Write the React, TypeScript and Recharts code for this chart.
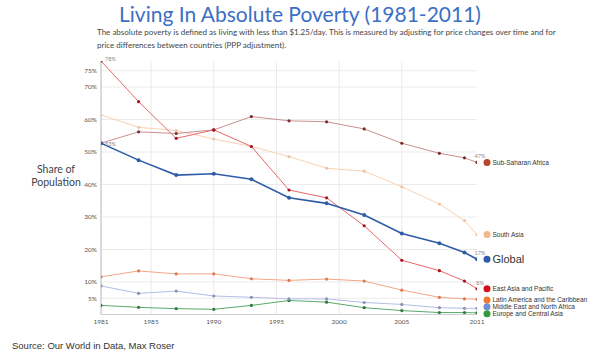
import React from 'react';
import { LineChart, Line, XAxis, YAxis, CartesianGrid } from 'recharts';

const years = [1981, 1984, 1987, 1990, 1993, 1996, 1999, 2002, 2005, 2008, 2010, 2011];
const eastAsia = [78, 65.5, 54.2, 56.8, 51.7, 38.3, 35.9, 27.3, 16.7, 13.5, 10.3, 7.9];
const subSaharan = [52.7, 56.2, 55.7, 56.8, 60.9, 59.6, 59.3, 57.1, 52.7, 49.6, 48.2, 46.8];
const southAsia = [61.4, 57.6, 56.6, 54.0, 51.7, 48.6, 45.0, 44.1, 39.3, 34.0, 28.9, 24.6];
const globalShare = [52.7, 47.5, 42.9, 43.3, 41.6, 35.9, 34.2, 30.6, 24.9, 21.9, 19.1, 17.0];
const latinAmerica = [11.6, 13.4, 12.5, 12.5, 11.0, 10.5, 10.9, 10.3, 7.5, 5.3, 4.8, 4.7];
const middleEast = [8.8, 6.5, 7.2, 5.7, 5.3, 4.8, 4.8, 3.7, 3.1, 2.1, 1.9, 1.9];
const europe = [2.8, 2.2, 1.8, 1.6, 2.8, 4.3, 3.8, 2.1, 1.2, 0.6, 0.6, 0.5];

const xTicks = [1981, 1985, 1990, 1995, 2000, 2005, 2011];
const yTicks = [5, 10, 20, 30, 40, 50, 60, 70, 75];
const gridYears = [1985, 1990, 1995, 2000, 2005];

const seriesNames = [
  'Sub-Saharan Africa',
  'South Asia',
  'Global',
  'East Asia and Pacific',
  'Latin America and the Caribbean',
  'Middle East and North Africa',
  'Europe and Central Asia',
];

const startLabels: Record<string, string> = { eastAsia: '78%', subSaharan: '53%' };
const endLabels: Record<string, string> = { subSaharan: '47%', globalShare: '17%', eastAsia: '8%' };

const data = years.map((year, i) => ({
  year,
  eastAsia: eastAsia[i],
  subSaharan: subSaharan[i],
  southAsia: southAsia[i],
  globalShare: globalShare[i],
  latinAmerica: latinAmerica[i],
  middleEast: middleEast[i],
  europe: europe[i],
}));

type SeriesStyle = {
  key: string;
  name: string;
  line: string;
  dot: string;
  legend: string;
  width: number;
  big?: boolean;
  legendDy?: number;
};

const series: SeriesStyle[] = [
  { key: 'europe', name: seriesNames[6], line: '#5aaa6a', dot: '#2f7a40', legend: '#2e9a44', width: 1, legendDy: 0.8 },
  { key: 'middleEast', name: seriesNames[5], line: '#b4bce6', dot: '#8a94b4', legend: '#6f8fd6', width: 1, legendDy: -1.5 },
  { key: 'latinAmerica', name: seriesNames[4], line: '#f4a584', dot: '#e07a55', legend: '#f07a32', width: 1, legendDy: 0.7 },
  { key: 'southAsia', name: seriesNames[1], line: '#f9d2b0', dot: '#f0c4a4', legend: '#f3b88a', width: 1 },
  { key: 'subSaharan', name: seriesNames[0], line: '#c98f8f', dot: '#7a2f2f', legend: '#b6452f', width: 1 },
  { key: 'eastAsia', name: seriesNames[3], line: '#e2686a', dot: '#a8121f', legend: '#d3101f', width: 1 },
  { key: 'globalShare', name: seriesNames[2], line: '#2f5ca8', dot: '#2f5ca8', legend: '#2f5ca8', width: 1.6, big: true },
];

const makeLabel = (s: SeriesStyle) => (props: any) => {
  const { x, y, index } = props;
  const k = `${s.key}-lab-${index}`;
  if (index === 0 && startLabels[s.key]) {
    return (
      <text key={k} x={x + 4} y={y + (s.key === 'subSaharan' ? 3 : -0.5)} fontSize={5.5} fill="#888" fontFamily="Lato, sans-serif">
        {startLabels[s.key]}
      </text>
    );
  }
  if (index === years.length - 1) {
    const ly = y + (s.legendDy || 0);
    return (
      <g key={k}>
        {endLabels[s.key] ? (
          <text x={x + 3} y={y - 4} textAnchor="middle" fontSize={5.5} fill="#888" fontFamily="Lato, sans-serif">
            {endLabels[s.key]}
          </text>
        ) : null}
        <circle cx={x + 10} cy={ly} r={3.5} fill={s.legend} />
        <text
          x={x + 15.5}
          y={ly}
          dy="0.35em"
          fontSize={s.big ? 11 : 6.5}
          fill="#333"
          fontFamily="'Liberation Sans', Arial, sans-serif"
        >
          {s.name}
        </text>
      </g>
    );
  }
  return <g key={k} />;
};

export default function App() {
  return (
    <div style={{ position: 'absolute', left: 0, top: 0, width: 600, height: 356, background: '#fff', overflow: 'hidden' }}>
      <div
        style={{
          position: 'absolute',
          left: 0,
          top: 1,
          width: 600,
          textAlign: 'center',
          fontFamily: 'Lato, sans-serif',
          fontWeight: 400,
          fontSize: 21,
          lineHeight: '26px',
          color: '#3b70c4',
          whiteSpace: 'nowrap',
        }}
      >
        Living In Absolute Poverty (1981-2011)
      </div>
      <div
        style={{
          position: 'absolute',
          left: 97,
          top: 26,
          width: 480,
          fontFamily: 'Lato, sans-serif',
          fontSize: 8,
          lineHeight: '12.5px',
          color: '#444',
        }}
      >
        The absolute poverty is defined as living with less than $1.25/day. This is measured by adjusting for price changes over time and for
        <br />
        price differences between countries (PPP adjustment).
      </div>
      <div
        style={{
          position: 'absolute',
          left: 6,
          top: 163,
          width: 100,
          textAlign: 'center',
          fontFamily: 'Lato, sans-serif',
          fontSize: 10.5,
          lineHeight: '13px',
          color: '#444',
        }}
      >
        Share of
        <br />
        Population
      </div>
      <div
        style={{
          position: 'absolute',
          left: 12,
          top: 340,
          fontFamily: "'Liberation Sans', Arial, sans-serif",
          fontSize: 9.5,
          color: '#333',
          whiteSpace: 'nowrap',
        }}
      >
        Source: Our World in Data, Max Roser
      </div>
      <div style={{ position: 'absolute', left: 0, top: 0 }}>
        <LineChart width={600} height={356} data={data} margin={{ top: 61, right: 123, bottom: 21.5, left: 71 }}>
          <CartesianGrid
            stroke="#ebebeb"
            horizontalValues={yTicks}
            verticalValues={gridYears}
          />
          <XAxis
            dataKey="year"
            type="number"
            domain={[1981, 2011]}
            ticks={xTicks}
            height={20}
            tickSize={0}
            tickMargin={5}
            axisLine={{ stroke: '#cfcfcf' }}
            tickLine={false}
            tick={{ fontSize: 6.5, fill: '#555', fontFamily: 'Lato, sans-serif' }}
            interval={0}
            allowDataOverflow
          />
          <YAxis
            type="number"
            domain={[0, 78]}
            ticks={yTicks}
            width={30}
            tickSize={0}
            tickMargin={4}
            axisLine={{ stroke: '#b5b5b5' }}
            tickLine={false}
            tickFormatter={(v: number) => `${v}%`}
            tick={{ fontSize: 6.5, fill: '#555', fontFamily: 'Lato, sans-serif' }}
            interval={0}
            allowDataOverflow
          />
          {series.map((s) => (
            <Line
              key={s.key}
              type="linear"
              dataKey={s.key}
              stroke={s.line}
              strokeWidth={s.width}
              dot={{ r: s.big ? 2 : 1.6, fill: s.dot, stroke: s.dot, strokeWidth: 0 }}
              activeDot={false}
              isAnimationActive={false}
              label={makeLabel(s)}
            />
          ))}
        </LineChart>
      </div>
    </div>
  );
}
